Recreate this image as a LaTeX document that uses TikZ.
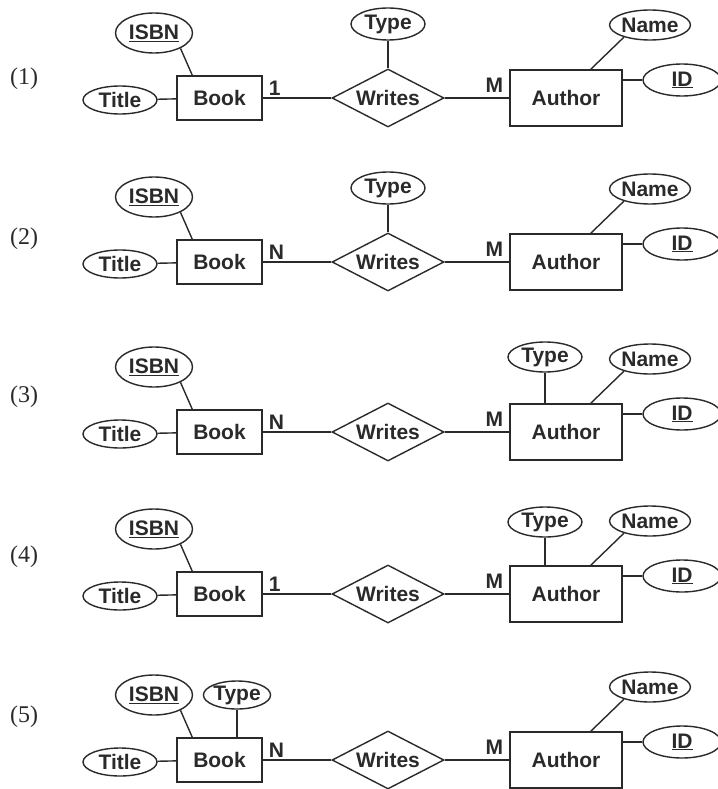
\documentclass[tikz,border=0pt]{standalone}
\usepackage{fontspec}
\setmainfont{Liberation Sans}
\newfontfamily\serifnum{Liberation Serif}
\usetikzlibrary{shapes.geometric}
\definecolor{ink}{HTML}{2A2A2A}
\tikzset{
  base/.style={text=ink, inner sep=0pt, font=\bfseries\fontsize{21}{24}\selectfont},
  ent/.style={base, draw=ink, line width=1.4pt, rectangle},
  attr/.style={base, draw=ink, line width=1.4pt, ellipse},
  rel/.style={base, draw=ink, line width=1.4pt, diamond, aspect=2},
  card/.style={base},
  conn/.style={draw=ink, line width=1.4pt},
  rowlab/.style={text=ink, inner sep=0pt, font=\serifnum\fontsize{24}{26}\selectfont}
}
% #1 id, #2 row centre y, #3 left cardinality, #4 label y
\newcommand{\ERrow}[4]{%
  \node[rowlab] (lab#1) at (24,#4) {(#1)};
  \node[ent, minimum width=85pt, minimum height=44pt] (book#1) at (219.5,#2) {Book};
  \node[attr, minimum width=74pt, minimum height=28pt] (title#1) at (120,#2+2) {Title};
  \node[attr, minimum width=77pt, minimum height=40pt] (isbn#1) at (154,#2-65) {\underline{ISBN}};
  \node[rel, minimum width=112pt, minimum height=58pt] (writes#1) at (388,#2) {Writes};
  \node[ent, minimum width=112pt, minimum height=56pt] (author#1) at (566,#2) {Author};
  \node[attr, minimum width=71pt, minimum height=30pt] (name#1) at (650,#2-73) {Name};
  \node[attr, minimum width=78pt, minimum height=32pt] (id#1) at (682,#2-18) {\underline{ID}};
  \node[card, anchor=south west] (lc#1) at ([xshift=6pt,yshift=2pt]book#1.east) {#3};
  \node[card, anchor=south east] (rc#1) at ([xshift=-6pt,yshift=5pt]author#1.west) {M};
  \draw[conn] (title#1) -- (book#1);
  \draw[conn] (isbn#1.-30) -- ([xshift=16pt]book#1.north west);
  \draw[conn] (book#1) -- (writes#1);
  \draw[conn] (writes#1) -- (author#1);
  \draw[conn] (name#1.205) -- ([xshift=-32pt]author#1.north east);
  \draw[conn] (id#1.west) -- (id#1.west -| author#1.east);
}
\begin{document}
\begin{tikzpicture}[x=1pt,y=-1pt]
  \useasboundingbox (0,0) rectangle (717,789);
  \fill[white] (0,0) rectangle (717,789);
  % (1)
  \ERrow{1}{98}{1}{79}
  \node[attr, minimum width=74pt, minimum height=32pt] (rtype1) at (388,24) {Type};
  \draw[conn] (rtype1) -- (writes1);
  % (2)
  \ERrow{2}{262}{N}{239}
  \node[attr, minimum width=74pt, minimum height=32pt] (rtype2) at (388,188) {Type};
  \draw[conn] (rtype2) -- (writes2);
  % (3)
  \ERrow{3}{432}{N}{397}
  \node[attr, minimum width=74pt, minimum height=30pt] (atype3) at (545,357) {Type};
  \draw[conn] (atype3) -- (atype3 |- author3.north);
  % (4)
  \ERrow{4}{594}{1}{557}
  \node[attr, minimum width=74pt, minimum height=30pt] (atype4) at (545,522) {Type};
  \draw[conn] (atype4) -- (atype4 |- author4.north);
  % (5)
  \ERrow{5}{760}{N}{717}
  \node[attr, minimum width=66pt, minimum height=28pt] (btype5) at (237,695) {Type};
  \draw[conn] (btype5) -- (btype5 |- book5.north);
\end{tikzpicture}
\end{document}
